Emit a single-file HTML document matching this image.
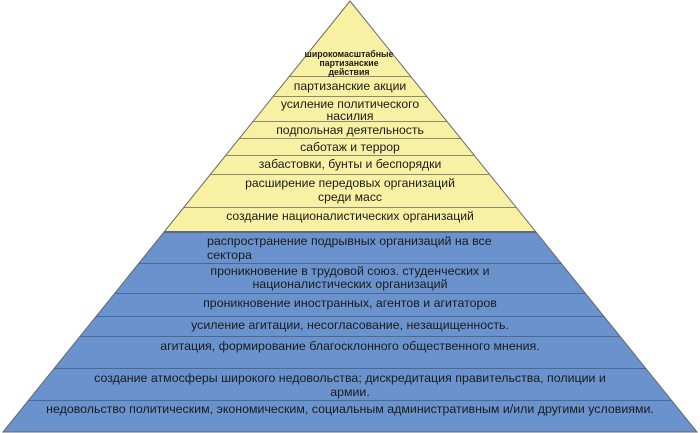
<!DOCTYPE html>
<html><head><meta charset="utf-8"><style>
html,body{margin:0;padding:0;background:#fff;width:700px;height:433px;overflow:hidden}
svg text{font-family:"Liberation Sans",sans-serif;fill:#1a1a1a}
</style></head><body>
<svg width="700" height="433" viewBox="0 0 700 433" xmlns="http://www.w3.org/2000/svg">
<defs><clipPath id="c"><polygon points="350,1 697,432 3,432"/></clipPath></defs>
<g clip-path="url(#c)">
<rect x="0" y="0" width="700" height="232" fill="#f8f0a2"/>
<rect x="0" y="232" width="700" height="201" fill="#6a93cd"/>
<g stroke="#8a8a70" stroke-width="1">
<line x1="0" y1="76.5" x2="700" y2="76.5"/>
<line x1="0" y1="96.5" x2="700" y2="96.5"/>
<line x1="0" y1="121.5" x2="700" y2="121.5"/>
<line x1="0" y1="138.5" x2="700" y2="138.5"/>
<line x1="0" y1="155.5" x2="700" y2="155.5"/>
<line x1="0" y1="174.5" x2="700" y2="174.5"/>
<line x1="0" y1="207.5" x2="700" y2="207.5"/>
</g>
<line x1="0" y1="232" x2="700" y2="232" stroke="#5a6a80" stroke-width="2"/>
<g stroke="#4a6a95" stroke-width="1">
<line x1="0" y1="263.5" x2="700" y2="263.5"/>
<line x1="0" y1="293.5" x2="700" y2="293.5"/>
<line x1="0" y1="316.5" x2="700" y2="316.5"/>
<line x1="0" y1="336.5" x2="700" y2="336.5"/>
<line x1="0" y1="368.5" x2="700" y2="368.5"/>
<line x1="0" y1="400.5" x2="700" y2="400.5"/>
</g>
</g>
<polygon points="350,1 697,432 3,432" fill="none" stroke="#666" stroke-width="1"/>
<g text-anchor="middle">
<text x="349" y="57" font-size="8.8" font-weight="bold">широкомасштабные</text>
<text x="349" y="66" font-size="8.8" font-weight="bold">партизанские</text>
<text x="349" y="75" font-size="8.8" font-weight="bold">действия</text>
<g font-size="12.2">
<text x="350" y="90">партизанские акции</text>
<text x="350" y="108">усиление политического</text>
<text x="350" y="120">насилия</text>
<text x="350" y="134">подпольная деятельность</text>
<text x="350" y="151">саботаж и террор</text>
<text x="350" y="168">забастовки, бунты и беспорядки</text>
<text x="350" y="187">расширение передовых организаций</text>
<text x="350" y="201">среди масс</text>
<text x="350" y="220">создание националистических организаций</text>
</g>
<g font-size="12.4">
<text x="350" y="275">проникновение в трудовой союз. студенческих и</text>
<text x="350" y="288">националистических организаций</text>
<text x="350" y="307">проникновение иностранных, агентов и агитаторов</text>
<text x="350" y="329">усиление агитации, несогласование, незащищенность.</text>
<text x="350" y="350">агитация, формирование благосклонного общественного мнения.</text>
<text x="350" y="382">создание атмосферы широкого недовольства; дискредитация правительства, полиции и</text>
<text x="350" y="396">армии.</text>
<text x="350" y="413">недовольство политическим, экономическим, социальным административным и/или другими условиями.</text>
</g>
</g>
<text x="207" y="245" font-size="12.4">распространение подрывных организаций на все</text>
<text x="207" y="259" font-size="12.4">сектора</text>
</svg>
</body></html>
